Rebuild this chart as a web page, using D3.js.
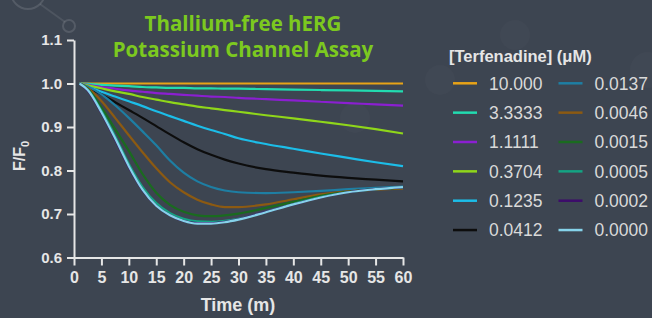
<!DOCTYPE html>
<html>
<head>
<meta charset="utf-8">
<script src="https://cdn.jsdelivr.net/npm/d3@7"></script>
<style>
  html, body { margin: 0; padding: 0; background: #3d4551; }
  svg { display: block; }
</style>
</head>
<body>
<svg width="652" height="318"></svg>
<script>
// sample times (minutes)
var times = [1, 2.5, 5, 7.5, 10, 12.5, 15, 17.5, 20, 22.5, 25, 27.5, 30, 35, 40, 45, 50, 55, 60];

// F/F0 per terfenadine concentration
var f10000 = [1, 1, 1, 1, 1, 1, 1, 1, 1, 1, 1, 1, 1, 1, 1, 1, 1, 1, 1];
var f33333 = [1, .999, .997, .995, .994, .992, .991, .990, .990, .989, .989, .988, .988, .987, .986, .985, .984, .983, .982];
var f11111 = [1, .997, .992, .988, .984, .981, .978, .976, .974, .972, .970, .969, .967, .964, .961, .958, .955, .952, .949];
var f03704 = [1, .996, .989, .982, .976, .969, .963, .957, .952, .947, .943, .939, .935, .927, .920, .912, .904, .895, .885];
var f01235 = [1, .993, .981, .970, .959, .948, .936, .925, .914, .903, .893, .884, .874, .861, .850, .839, .829, .819, .810];
var f00412 = [1, .991, .975, .957, .939, .921, .902, .883, .865, .849, .836, .825, .816, .803, .795, .788, .783, .779, .775];
var f00137 = [1, .993, .975, .950, .921, .890, .858, .823, .795, .775, .762, .754, .750, .748, .750, .753, .757, .760, .763];
var f00046 = [1, .990, .960, .921, .881, .842, .805, .773, .750, .733, .722, .716, .716, .722, .734, .745, .752, .756, .758];
var f00015 = [1, .988, .945, .895, .845, .792, .749, .721, .705, .697, .695, .697, .701, .714, .728, .742, .751, .757, .760];
var f00005 = [1, .986, .937, .879, .815, .762, .725, .702, .689, .683, .682, .684, .689, .705, .723, .739, .750, .757, .761];
var f00002 = [1, .984, .932, .872, .808, .755, .719, .697, .684, .679, .679, .682, .688, .705, .722, .738, .750, .757, .761];
var f00000 = [1, .985, .934, .874, .810, .756, .719, .697, .684, .678, .678, .681, .687, .704, .722, .738, .750, .757, .762];

var concLabels = ["10.000", "3.3333", "1.1111", "0.3704", "0.1235", "0.0412",
                  "0.0137", "0.0046", "0.0015", "0.0005", "0.0002", "0.0000"];
var seriesValues = [f10000, f33333, f11111, f03704, f01235, f00412,
                    f00137, f00046, f00015, f00005, f00002, f00000];
var colors = ["#e8a317", "#22dbb0", "#8b1fd1", "#8fd61a", "#1cbde8", "#0d0d0d",
              "#1e7ea3", "#8c5a12", "#1a6b1f", "#14a383", "#3d0c6b", "#86d3ea"];

var xTicks = [0, 5, 10, 15, 20, 25, 30, 35, 40, 45, 50, 55, 60];
var yTicks = [0.6, 0.7, 0.8, 0.9, 1.0, 1.1];

var svg = d3.select("svg");
var axisColor = "#e6e6e6";

// faint background decoration
var deco = svg.append("g");
deco.append("circle").attr("cx", 28).attr("cy", -8).attr("r", 17)
    .attr("fill", "none").attr("stroke", "rgba(255,255,255,0.12)").attr("stroke-width", 2);
deco.append("line").attr("x1", 40).attr("y1", 4).attr("x2", 65).attr("y2", 22)
    .attr("stroke", "rgba(255,255,255,0.09)").attr("stroke-width", 2);
deco.append("circle").attr("cx", 69).attr("cy", 26).attr("r", 6)
    .attr("fill", "none").attr("stroke", "rgba(255,255,255,0.12)").attr("stroke-width", 2);
[[355, 118, 15], [440, 80, 15], [515, 35, 15], [648, 70, 18]].forEach(function (c) {
    deco.append("circle").attr("cx", c[0]).attr("cy", c[1]).attr("r", c[2])
        .attr("fill", "rgba(255,255,255,0.018)");
});

var x = d3.scaleLinear().domain([0, 60]).range([74, 403]);
var y = d3.scaleLinear().domain([0.6, 1.1]).range([257.5, 40]);

// title
var title = svg.append("text")
    .attr("text-anchor", "middle")
    .attr("fill", "#7cc91f")
    .attr("font-family", "'Open Sans', sans-serif")
    .attr("font-weight", 700)
    .attr("font-size", "20.5px");
title.append("tspan").attr("x", 243).attr("y", 31).text("Thallium-free hERG");
title.append("tspan").attr("x", 243).attr("y", 57).text("Potassium Channel Assay");

// axes
var yAxis = svg.append("g")
    .attr("transform", "translate(74,0)")
    .call(d3.axisLeft(y).tickValues(yTicks).tickFormat(d3.format(".1f"))
        .tickSize(7).tickSizeOuter(0).tickPadding(5));
var xAxis = svg.append("g")
    .attr("transform", "translate(0,257.5)")
    .call(d3.axisBottom(x).tickValues(xTicks).tickSize(8).tickSizeOuter(0).tickPadding(6));

[yAxis, xAxis].forEach(function (g) {
    g.selectAll("path, line").attr("stroke", axisColor).attr("stroke-width", 2);
    g.selectAll("text")
        .attr("fill", axisColor)
        .attr("font-family", "'Liberation Sans', Arial, sans-serif")
        .attr("font-weight", 700);
});
yAxis.selectAll("text").attr("font-size", "15px");
xAxis.selectAll("text").attr("font-size", "16px");

svg.append("text")
    .attr("x", 238).attr("y", 311)
    .attr("text-anchor", "middle")
    .attr("fill", axisColor)
    .attr("font-family", "'Liberation Sans', Arial, sans-serif")
    .attr("font-weight", 700)
    .attr("font-size", "18px")
    .text("Time (m)");

var yLabel = svg.append("text")
    .attr("transform", "translate(25,156) rotate(-90)")
    .attr("text-anchor", "middle")
    .attr("fill", axisColor)
    .attr("font-family", "'Liberation Sans', Arial, sans-serif")
    .attr("font-weight", 700)
    .attr("font-size", "16px");
yLabel.append("tspan").text("F/F");
yLabel.append("tspan").attr("font-size", "11px").attr("dy", 4).text("0");

// curves
var line = d3.line()
    .x(function (d) { return x(d[0]); })
    .y(function (d) { return y(d[1]); })
    .curve(d3.curveMonotoneX);

seriesValues.forEach(function (vals, i) {
    var pts = times.map(function (t, j) { return [t, vals[j]]; });
    svg.append("path")
        .attr("d", line(pts))
        .attr("fill", "none")
        .attr("stroke", colors[i])
        .attr("stroke-width", 2.2);
});

// legend
svg.append("text")
    .attr("x", 449).attr("y", 62)
    .attr("fill", axisColor)
    .attr("font-family", "'Liberation Sans', Arial, sans-serif")
    .attr("font-weight", 700)
    .attr("font-size", "16.5px")
    .text("[Terfenadine] (\u03bcM)");

concLabels.forEach(function (label, i) {
    var col = Math.floor(i / 6), row = i % 6;
    var lx = 453 + col * 105.5;
    var ly = 83.3 + row * 29.35;
    svg.append("line")
        .attr("x1", lx).attr("x2", lx + 24)
        .attr("y1", ly).attr("y2", ly)
        .attr("stroke", colors[i])
        .attr("stroke-width", 2.5);
    svg.append("text")
        .attr("x", lx + 36).attr("y", ly + 6.3)
        .attr("fill", "#d9d9d9")
        .attr("font-family", "'Liberation Sans', Arial, sans-serif")
        .attr("font-size", "17.5px")
        .text(label);
});
</script>
</body>
</html>
